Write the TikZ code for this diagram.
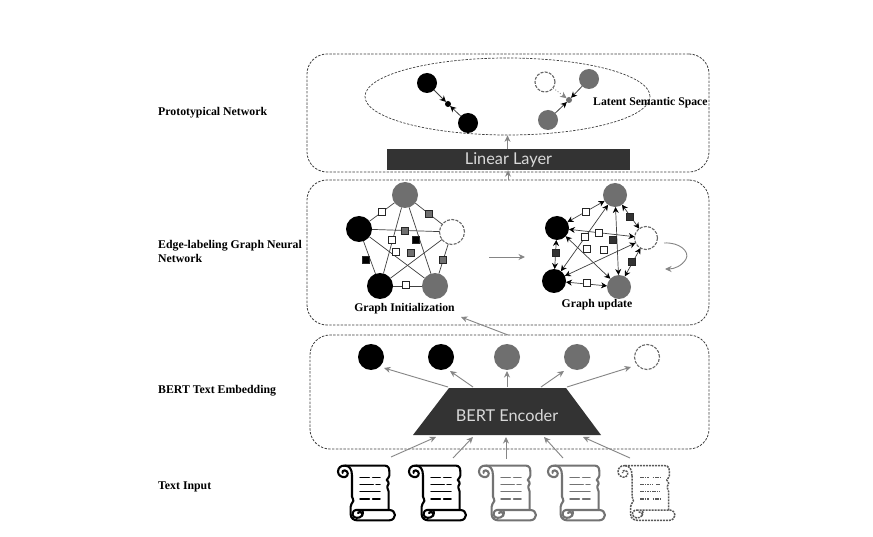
\documentclass[tikz,border=0pt]{standalone}
\usepackage{fontspec}
\setmainfont{Liberation Serif}
\newfontfamily\thinsans{Lato}
\usetikzlibrary{arrows.meta,shapes.geometric,calc}
\definecolor{darkblock}{HTML}{333333}
\definecolor{midgray}{HTML}{6F6F6F}
\definecolor{arrgray}{HTML}{858585}
\tikzset{
  x=1pt,y=-1pt,
  panel/.style={draw=black!75,dashed,dash pattern=on 2.4pt off 1.4pt,line width=.8pt,rounded corners=20pt,inner sep=0,outer sep=0},
  blackdot/.style={circle,fill=black,inner sep=0,outer sep=0,minimum size=#1},
  graydot/.style={circle,fill=midgray,inner sep=0,outer sep=0,minimum size=#1},
  dashdot/.style={circle,draw=black!60,fill=white,dash pattern=on 3pt off 1.3pt,line width=1.1pt,inner sep=0,outer sep=0,minimum size=#1},
  whitesq/.style={rectangle,draw=black!85,fill=white,line width=1.2pt,inner sep=0,minimum size=7pt},
  graysq/.style={rectangle,draw=black!85,fill=midgray,line width=1.2pt,inner sep=0,minimum size=7pt},
  blacksq/.style={rectangle,draw=black!85,fill=black,line width=1.2pt,inner sep=0,minimum size=7pt},
  edgeline/.style={draw=black!75,line width=.7pt},
  duplex/.style={edgeline,{Stealth[length=6pt,width=6pt,black]}-{Stealth[length=6pt,width=6pt,black]}},
  tipblack/.style={draw=black!75,line width=.8pt,-{Stealth[length=6pt,width=6pt,black]}},
  flow/.style={draw=arrgray,line width=.9pt,-{Stealth[length=6.5pt,width=6pt,arrgray]}},
  sidelabel/.style={font=\bfseries\fontsize{11.8}{14}\selectfont,anchor=west,align=left,inner sep=0},
  caption/.style={font=\bfseries\fontsize{11.7}{13}\selectfont,inner sep=0},
  scrollline/.style={line width=2.1pt,line join=round,line cap=round,fill=none},
  scrolltext/.style={scrollline,line width=1.5pt},
}
\newcommand{\scrollshape}[4]{%
\begin{scope}[shift={(#1,455)},scale=1/3,scrollline/.append style={draw=#2,#3},scrolltext/.append style={draw=#2,#4}]
  \draw[scrollline] (45,32) -- (165,32) .. controls (175,32) and (178,40) .. (178,50) -- (178,62)
    .. controls (178,68) and (172,70) .. (170,75) .. controls (172,80) and (178,80) .. (176,86)
    .. controls (174,92) and (170,94) .. (172,98) .. controls (176,102) and (176,105) .. (176,110) -- (176,165);
  \draw[scrollline] (66,62) -- (66,125) .. controls (66,130) and (72,133) .. (70,138)
    .. controls (66,146) and (62,148) .. (62,155) -- (62,178)
    .. controls (62,190) and (72,196) .. (82,196) -- (178,196)
    .. controls (188,196) and (195,188) .. (195,180) .. controls (195,172) and (188,165) .. (178,165) -- (84,165);
  \draw[scrollline] (84,165) .. controls (74,163) and (66,170) .. (68,180) .. controls (70,190) and (88,192) .. (96,182)
    .. controls (100,172) and (88,168) .. (84,174);
  \draw[scrollline] (96,182) .. controls (100,176) and (100,170) .. (96,165);
  \draw[scrollline] (45,32) .. controls (32,30) and (24,40) .. (24,50) .. controls (24,62) and (36,68) .. (46,66)
    .. controls (56,62) and (56,48) .. (44,46) .. controls (38,46) and (36,50) .. (38,54);
  \draw[scrollline] (45,32) .. controls (58,32) and (66,42) .. (66,62);
  \draw[scrolltext] (90,67) -- (118,67) (128,67) -- (150,67);
  \draw[scrolltext] (90,88) -- (130,88) (138,88) -- (150,88);
  \draw[scrolltext] (90,110) -- (150,110);
  \draw[scrolltext] (90,132) -- (118,132) (128,132) -- (150,132);
\end{scope}}
\begin{document}
\begin{tikzpicture}
\useasboundingbox (0,0) rectangle (873,537);
\fill[white] (0,0) rectangle (873,537);

% panels
\node[panel,minimum width=402pt,minimum height=118pt] (panelA) at (508,113) {};
\node[panel,minimum width=402pt,minimum height=145pt] (panelB) at (508,252.5) {};
\node[panel,minimum width=399pt,minimum height=114pt] (panelC) at (509.5,392) {};
\node[draw=black!75,dash pattern=on 2.4pt off 1.4pt,line width=.7pt,ellipse,inner sep=0,minimum width=285pt,minimum height=77pt] (space) at (507.5,96.5) {};

% side labels
\node[sidelabel] (l1) at (158,112.5) {Prototypical Network};
\node[sidelabel] (l2) at (158,251.5) {Edge-labeling Graph Neural\\Network};
\node[sidelabel] (l3) at (158,390.5) {BERT Text Embedding};
\node[sidelabel] (l4) at (158,486.5) {Text Input};

% latent space
\node[blackdot=20pt] (p1) at (427,83) {};
\node[blackdot=20pt] (p2) at (468,123) {};
\node[blackdot=6pt] (p3) at (448,104) {};
\node[dashdot=20pt] (q1) at (545,82) {};
\node[graydot=20pt] (q2) at (589,79) {};
\node[graydot=20pt] (q3) at (548,120) {};
\node[graydot=6pt] (q4) at (569,100) {};
\draw[tipblack] (p1) -- (p3);
\draw[tipblack] (p2) -- (p3);
\draw[flow,dotted,line width=.8pt] (q1) -- (q4);
\draw[tipblack] (q2) -- (q4);
\draw[tipblack] (q3) -- (q4);
\node[caption,anchor=west] (lat) at (593,102.5) {Latent Semantic Space};

% linear layer
\node[fill=darkblock,text=white!85!black,minimum width=243pt,minimum height=21pt,inner sep=0,font=\thinsans\fontsize{16.3}{18}\selectfont] (linear) at (508.5,159.5) {Linear Layer};
\draw[flow] (linear.north -| space.south) -- (space.south);
\coordinate (midB) at (508,180);
\draw[flow] (midB) -- (linear.south -| midB);

% graph initialization
\node[graydot=26pt] (a1) at (405,195) {};
\node[blackdot=26pt] (a2) at (359,229) {};
\node[dashdot=25pt] (a3) at (452,232) {};
\node[blackdot=26pt] (a4) at (380,286) {};
\node[graydot=26pt] (a5) at (435,286) {};
\foreach \s/\t in {a1/a2,a1/a3,a1/a4,a1/a5,a2/a3,a2/a4,a2/a5,a3/a4,a3/a5,a4/a5}
  \draw[edgeline] (\s) -- (\t);
\node[whitesq] (s1) at (382,212) {};
\node[graysq] (s2) at (429,214) {};
\node[graysq] (s3) at (405,231) {};
\node[whitesq] (s4) at (392,240) {};
\node[blacksq] (s5) at (416,240) {};
\node[whitesq] (s6) at (396,252) {};
\node[graysq] (s7) at (411,253) {};
\node[blacksq] (s8) at (366,260) {};
\node[graysq] (s9) at (443,260) {};
\node[whitesq] (s10) at (406,285) {};
\node[caption] (capA) at (404.5,308.5) {Graph Initialization};

% between the graphs
\coordinate (gapL) at (489,257);
\coordinate (gapR) at (525,257);
\draw[flow] (gapL) -- (gapR);

% graph update
\node[graydot=24pt] (b1) at (615,195) {};
\node[blackdot=24pt] (b2) at (557,228) {};
\node[dashdot=23pt] (b3) at (646,238) {};
\node[blackdot=24pt] (b4) at (554,281) {};
\node[graydot=24pt] (b5) at (619,287) {};
\foreach \s/\t in {b1/b2,b1/b3,b1/b4,b1/b5,b2/b3,b2/b4,b2/b5,b3/b4,b3/b5,b4/b5}
  \draw[duplex] (\s) -- (\t);
\node[whitesq] (t1) at (586,212) {};
\node[blacksq,fill=black!80] (t2) at (630,217) {};
\node[whitesq] (t3) at (599,233) {};
\node[whitesq] (t4) at (585,237) {};
\node[blacksq,fill=black!80] (t5) at (613,240) {};
\node[whitesq] (t6) at (587,249) {};
\node[whitesq] (t7) at (604,250) {};
\node[blacksq,fill=black!80] (t8) at (556,253) {};
\node[blacksq,fill=black!80] (t9) at (632,262) {};
\node[whitesq] (t10) at (587,283) {};
\node[caption] (capB) at (597,304.5) {Graph update};
\coordinate (loopA) at (664,243);
\coordinate (loopB) at (665,269);
\draw[flow] (loopA) .. controls (680,242) and (690,252) .. (686,259) .. controls (682,266) and (674,269) .. (loopB);

% link from the encoder panel to the graph panel
\coordinate (upA) at (508,335);
\coordinate (upB) at (461,317);
\draw[flow] (upA) -- (upB);

% BERT
\fill[darkblock] (449,388) -- (566,388) -- (601,435) -- (413,435) -- cycle;
\node[text=white!85!black,font=\thinsans\fontsize{16.3}{18}\selectfont,inner sep=0] (bertlabel) at (507,416) {BERT Encoder};

\node[blackdot=26pt] (e1) at (371,357) {};
\node[blackdot=26pt] (e2) at (441,357) {};
\node[graydot=26pt] (e3) at (507,357) {};
\node[graydot=26pt] (e4) at (577,357) {};
\node[dashdot=25pt] (e5) at (647,357) {};
\coordinate (o1) at (448,387); \coordinate (t01) at (384,368);
\coordinate (o2) at (473,387); \coordinate (t02) at (450,371);
\coordinate (o3) at (507,387); \coordinate (t03) at (507,371);
\coordinate (o4) at (541,387); \coordinate (t04) at (564,371);
\coordinate (o5) at (567,387); \coordinate (t05) at (631,367);
\foreach \i in {1,...,5} \draw[flow] (o\i) -- (t0\i);

\coordinate (i1) at (391,457); \coordinate (j1) at (436,437);
\coordinate (i2) at (453,458); \coordinate (j2) at (473,437);
\coordinate (i3) at (506,459); \coordinate (j3) at (506,437);
\coordinate (i4) at (563,458); \coordinate (j4) at (544,437);
\coordinate (i5) at (630,458); \coordinate (j5) at (583,437);
\foreach \i in {1,...,5} \draw[flow] (i\i) -- (j\i);

% scrolls
\scrollshape{330}{black}{}{}
\scrollshape{401}{black}{}{}
\scrollshape{471}{black!55}{}{}
\scrollshape{540}{black!55}{}{}
\scrollshape{610}{black!65}{line width=1.5pt,dash pattern=on 2pt off 1pt,line cap=butt}{line width=1.1pt,dash pattern=on 1.6pt off .8pt,line cap=butt}
\end{tikzpicture}
\end{document}
